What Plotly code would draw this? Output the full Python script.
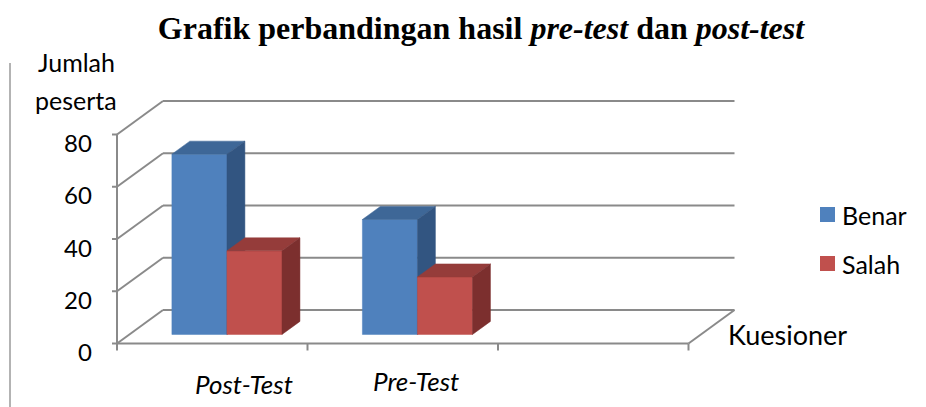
import plotly.graph_objects as go

# ---------------- data ----------------
categories = ["Post-Test", "Pre-Test", ""]
series_names = ["Benar", "Salah"]
benar = [69, 44]
salah = [32, 22]
y_ticks = [0, 20, 40, 60, 80]
title_html = "<b>Grafik perbandingan hasil <i>pre-test</i> dan <i>post-test</i></b>"
y_title_lines = ["Jumlah", "peserta"]
x_title = "Kuesioner"

# ---------------- style ----------------
OFF = 8                              # page body margin compensation
W, H = 926 - OFF, 407 - OFF
X0_PX, SLOT_PX = 117 - OFF, 190.5    # front-left floor corner, px per category
Y0_PX, PX_PER_UNIT = 343.5 - OFF, 2.6125
DX = 46 / SLOT_PX                    # depth offset (category units)
DY = 33.5 / PX_PER_UNIT              # depth offset (value units)
D0, D1 = 0.27, 0.66                  # bar depth span (fraction of floor depth)
BAR_W = 0.289
GROUP_SHIFT = 0.012
GRID = "#8a8a8a"
FRONT = {"Benar": "#4F81BD", "Salah": "#C0504D"}
TOP = {"Benar": "#3E6797", "Salah": "#953C3A"}
SIDE = {"Benar": "#325581", "Salah": "#7C2F2E"}
SANS = "Lato"
SERIF = "Liberation Serif"

def px(xp):
    return (xp - OFF) / W

def py(yp):
    return 1 - (yp - OFF) / H

xr = [-X0_PX / SLOT_PX, (W - X0_PX) / SLOT_PX]
yr = [-(H - Y0_PX) / PX_PER_UNIT, Y0_PX / PX_PER_UNIT]

fig = go.Figure()
shapes = []

def line(x0, y0, x1, y1, color=GRID, width=2, ref=("x", "y")):
    shapes.append(dict(type="line", xref=ref[0], yref=ref[1], x0=x0, y0=y0, x1=x1, y1=y1,
                       line=dict(color=color, width=width), layer="below"))

n_slots = len(categories)
for v in y_ticks:
    line(0, v, DX, v + DY)                   # side wall
    line(DX, v + DY, n_slots + DX, v + DY)   # back wall
    line(-5 / SLOT_PX, v, 0, v)              # tick mark
line(0, 0, 0, y_ticks[-1])                   # front value axis
line(0, 0, n_slots, 0)                       # front floor edge
line(n_slots, 0, n_slots + DX, DY)           # right floor edge
for i in range(n_slots + 1):
    line(i, 0, i, -7 / PX_PER_UNIT)
line(px(10), 0, px(10), py(63), color="#9a9a9a", width=1.5, ref=("paper", "paper"))

def poly(xs, ys, color):
    fig.add_trace(go.Scatter(x=xs + [xs[0]], y=ys + [ys[0]], mode="lines", fill="toself",
                             fillcolor=color, line=dict(color=color, width=0.5),
                             hoverinfo="skip", showlegend=False))

ox0, oy0 = D0 * DX, D0 * DY
bdx, bdy = (D1 - D0) * DX, (D1 - D0) * DY
for i in range(len(benar)):
    c = i + 0.5 + GROUP_SHIFT
    for k, (name, vals) in enumerate(zip(series_names, [benar, salah])):
        v = vals[i]
        xl = c - BAR_W + k * BAR_W + ox0
        xrr = xl + BAR_W
        b = oy0
        t = oy0 + v
        poly([xl, xrr, xrr, xl], [b, b, t, t], FRONT[name])
        poly([xl, xrr, xrr + bdx, xl + bdx], [t, t, t + bdy, t + bdy], TOP[name])
        poly([xrr, xrr + bdx, xrr + bdx, xrr], [b, b + bdy, t + bdy, t], SIDE[name])

ann = []
for v in y_ticks:
    ann.append(dict(x=-23 / SLOT_PX, y=v - 8 / PX_PER_UNIT, xref="x", yref="y", text=str(v),
                    showarrow=False, xanchor="right", yanchor="middle",
                    font=dict(family=SANS, size=24, color="#000")))
label_dx = [0.167, 0.07]
label_dy = [-15.5, -14.4]
for i, cat in enumerate(categories):
    if not cat:
        continue
    ann.append(dict(x=i + 0.5 + label_dx[i], y=label_dy[i], xref="x", yref="y",
                    text="<i>" + cat + "</i>", showarrow=False, xanchor="center", yanchor="middle",
                    font=dict(family=SANS, size=26, color="#000")))
for j, txt in enumerate(y_title_lines):
    ann.append(dict(x=px(76), y=py(62 + 38 * j), xref="paper", yref="paper", text=txt,
                    showarrow=False, xanchor="center", yanchor="middle",
                    font=dict(family=SANS, size=25, color="#000")))
ann.append(dict(x=px(726), y=py(334), xref="paper", yref="paper", text=x_title,
                showarrow=False, xanchor="left", yanchor="middle",
                font=dict(family=SANS, size=27, color="#000")))
for j, name in enumerate(series_names):
    yc = 214.5 + 49 * j
    shapes.append(dict(type="rect", xref="paper", yref="paper", x0=px(820), x1=px(835),
                       y0=py(yc + 7.5), y1=py(yc - 7.5),
                       fillcolor=FRONT[name], line=dict(width=0)))
    ann.append(dict(x=px(840), y=py(yc), xref="paper", yref="paper", text=name,
                    showarrow=False, xanchor="left", yanchor="middle",
                    font=dict(family=SANS, size=25, color="#000")))

fig.update_layout(
    width=W, height=H, margin=dict(l=0, r=0, t=0, b=0),
    paper_bgcolor="white", plot_bgcolor="white", showlegend=False,
    title=dict(text=title_html, x=px(481), xanchor="center", y=py(28), yanchor="middle",
               font=dict(family=SERIF, size=32, color="#000")),
    xaxis=dict(range=xr, visible=False, fixedrange=True),
    yaxis=dict(range=yr, visible=False, fixedrange=True),
    shapes=shapes, annotations=ann,
)
fig.write_html("out.html")
